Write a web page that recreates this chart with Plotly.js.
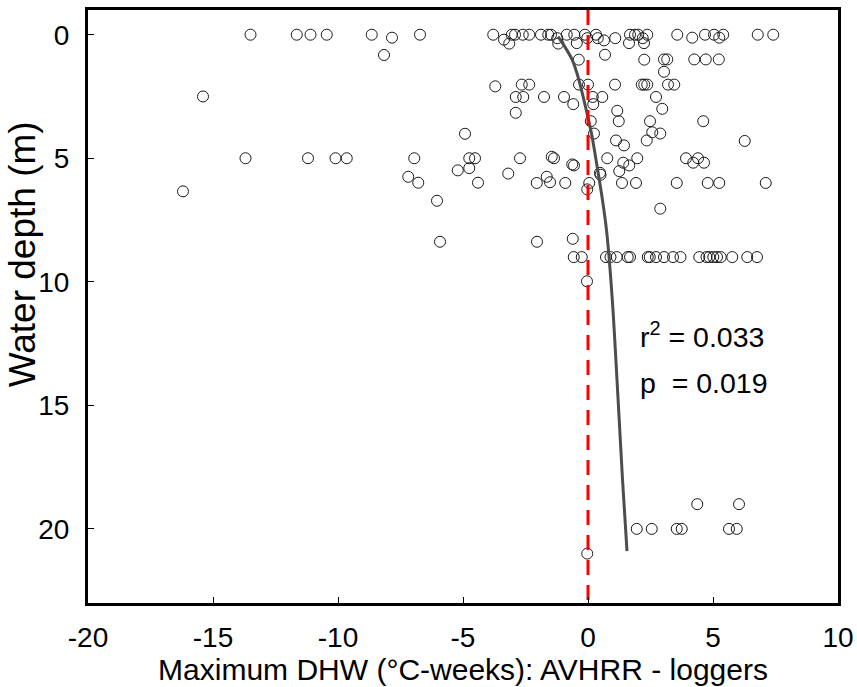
<!DOCTYPE html>
<html>
<head>
<meta charset="utf-8">
<script src="https://cdn.plot.ly/plotly-3.0.1.min.js"></script>
<style>html,body{margin:0;padding:0;background:#fff;}#chart{width:857px;height:687px;}</style>
</head>
<body>
<div id="chart"></div>
<script>
// Observed points: DHW difference (AVHRR - loggers) vs water depth
const dhwDiff = [
  // depth ~0
  -13.5, -11.65, -11.1, -10.45, -8.65, -6.72, -3.79, -3.05, -2.92, -2.61, -2.35, -1.88, -1.59, -1.48,
  -0.85, -0.55, -0.12, 0.32, 1.68, 1.88, 2.01, 2.37, 3.57, 4.68, 5.04, 5.41, 6.79, 7.41,
  -7.84, -8.16, -3.36, -3.15, -1.23, -1.19, -0.45, -0.03, 0.39, 0.64, 1.09, 1.64, 2.24, 2.19, 4.17, 5.25,
  // depth ~1
  -0.37, 0.68, 2.25, 3.04, 3.17, 4.25, 4.71, 5.23, 3.04,
  // depth ~2
  -3.71, -2.65, -2.35, -0.36, 0.0, 1.08, 2.15, 2.25, 2.37, 3.2, 3.45,
  // depth ~2.5-3
  -15.4, -2.89, -2.59, -1.76, -0.96, 0.19, 0.57, 2.72, -0.59, 0.21, -2.89, 2.97,
  // depth ~3-4.5
  1.17, 1.23, 0.11, 2.48, 4.61, 0.24, 2.57, 2.89, -4.92, 1.12, 1.44, 2.35, 6.27,
  // depth ~5
  -13.7, -11.2, -10.1, -9.65, -6.95, -4.75, -4.52, -2.72, -1.45, -1.36, 0.77, 1.97, 3.92, 4.4,
  1.41, 1.65, 4.21, 4.64, -0.63, -0.56, 1.25, 0.48, 0.5, -5.21, -4.75, -3.19,
  // depth ~6
  -7.19, -6.79, -4.4, -2.05, -1.65, -1.52, -0.91, 0.05, -0.03, 1.36, 1.92, 3.55, 4.79, 5.25, 7.11,
  -16.2, -6.04,
  // depth ~7-8.5
  2.89, -5.92, -2.04, -0.61,
  // depth ~9
  -0.57, -0.25, 0.72, 0.9, 1.15, 1.59, 1.68, 2.39, 2.47, 2.72, 3.04, 3.4, 3.7, 4.45, 4.74, 4.85,
  5.01, 5.16, 5.31, 5.77, 6.37, 6.76,
  // depth ~10
  -0.04,
  // depth ~19-21
  1.95, 2.55, 3.55, 3.75, 4.37, 5.64, 5.95, 6.04, -0.03
];
const waterDepth = [
  0, 0, 0, 0, 0, 0, 0, 0, 0, 0, 0, 0, 0, 0,
  0, 0, 0, 0, 0, 0, 0, 0, 0, 0, 0, 0, 0, 0,
  0.12, 0.82, 0.2, 0.36, 0.14, 0.36, 0.34, 0.14, 0.14, 0.23, 0.14, 0.34, 0.34, 0.14, 0.12, 0.12,
  1.01, 0.81, 1.01, 1.0, 1.0, 1.0, 1.0, 1.0, 1.5,
  2.09, 2.02, 2.02, 2.02, 2.02, 2.02, 2.02, 2.02, 2.02, 2.02, 2.02,
  2.5, 2.52, 2.52, 2.52, 2.52, 2.52, 2.52, 2.52, 2.81, 2.81, 3.16, 3.0,
  3.08, 3.5, 3.5, 3.5, 3.5, 4.0, 3.95, 4.0, 4.01, 4.28, 4.48, 4.28, 4.3,
  5, 5, 5, 5, 5, 5, 5, 5, 4.94, 5, 5, 5, 5, 5,
  5.18, 5.29, 5.18, 5.18, 5.25, 5.29, 5.52, 5.59, 5.67, 5.49, 5.4, 5.62,
  5.75, 5.99, 5.99, 6.0, 5.75, 5.97, 6.0, 6.0, 6.26, 6.0, 6.0, 6.0, 6.0, 6.0, 6.0,
  6.34, 6.72,
  7.04, 8.38, 8.38, 8.26,
  9, 9, 9, 9, 9, 9, 9, 9, 9, 9, 9, 9, 9, 9, 9, 9,
  9, 9, 9, 9, 9, 9,
  9.98,
  20, 20, 20, 20, 19, 20, 20, 19, 21
];
// Fitted curve
const fitDepth = [0.08, 0.5, 1.0, 1.5, 2.0, 3.0, 4.0, 5.0, 6.7, 8.0, 10.7, 14.7, 18.0, 20.9];
const fitDiff  = [-1.2, -0.92, -0.64, -0.46, -0.32, -0.08, 0.14, 0.31, 0.58, 0.75, 0.97, 1.2, 1.38, 1.56];
// Zero reference line
const refDiff  = [0, 0];
const refDepth = [-1, 23];
// Axis ticks
const xTickVals = [-20, -15, -10, -5, 0, 5, 10];
const xTickText = ['-20', '-15', '-10', '-5', '0', '5', '10'];
const yTickVals = [0, 5, 10, 15, 20];
const yTickText = ['0', '5', '10', '15', '20'];
const xTitle = 'Maximum DHW (°C-weeks): AVHRR - loggers';
const yTitle = 'Water depth (m)';
const statsText = ['r<sup>2</sup> = 0.033', 'p  = 0.019'];

const FONT = 'Liberation Sans, Arial, Helvetica, sans-serif';

const traces = [
  {
    type: 'scatter', mode: 'markers', x: dhwDiff, y: waterDepth,
    marker: {symbol: 'circle-open', size: 11, color: '#1a1a1a', line: {width: 1, color: '#1a1a1a'}},
    hoverinfo: 'x+y', showlegend: false
  },
  {
    type: 'scatter', mode: 'lines', x: fitDiff, y: fitDepth,
    line: {color: '#4d4d4d', width: 3, shape: 'spline'},
    showlegend: false
  },
  {
    type: 'scatter', mode: 'lines', x: refDiff, y: refDepth,
    line: {color: '#ff0000', width: 3, dash: '15px,10px'},
    showlegend: false
  }
];

const layout = {
  width: 857, height: 687,
  margin: {l: 88, r: 19, t: 10, b: 84},
  paper_bgcolor: '#ffffff', plot_bgcolor: '#ffffff',
  font: {family: FONT, size: 20, color: '#000'},
  xaxis: {
    range: [-20, 10], tickvals: xTickVals, ticktext: xTickText,
    ticks: 'inside', ticklen: 6, tickwidth: 1, tickcolor: '#000',
    showline: true, linewidth: 3, linecolor: '#000', mirror: true,
    showgrid: false, zeroline: false,
    tickfont: {family: FONT, size: 28, color: '#000'},
    ticklabelstandoff: 7,
    title: {text: xTitle, font: {family: FONT, size: 30, color: '#000'}, standoff: 3}
  },
  yaxis: {
    range: [23, -1], tickvals: yTickVals, ticktext: yTickText,
    ticks: 'inside', ticklen: 6, tickwidth: 1, tickcolor: '#000',
    showline: true, linewidth: 3, linecolor: '#000', mirror: true,
    showgrid: false, zeroline: false,
    tickfont: {family: FONT, size: 28, color: '#000'},
    ticklabelstandoff: 10
  },
  annotations: [
    {x: -0.088, y: 0.588, xref: 'paper', yref: 'paper', text: yTitle, textangle: -90, showarrow: false,
     xanchor: 'center', yanchor: 'middle', font: {family: FONT, size: 37, color: '#000'}},
    {x: 1.98, y: 12.15, xref: 'x', yref: 'y', text: statsText[0], showarrow: false, xanchor: 'left', yanchor: 'middle', font: {family: FONT, size: 28.5, color: '#000'}},
    {x: 1.98, y: 14.1, xref: 'x', yref: 'y', text: statsText[1], showarrow: false, xanchor: 'left', yanchor: 'middle', font: {family: FONT, size: 28.5, color: '#000'}}
  ]
};

Plotly.newPlot('chart', traces, layout, {staticPlot: true, displayModeBar: false});
</script>
</body>
</html>
